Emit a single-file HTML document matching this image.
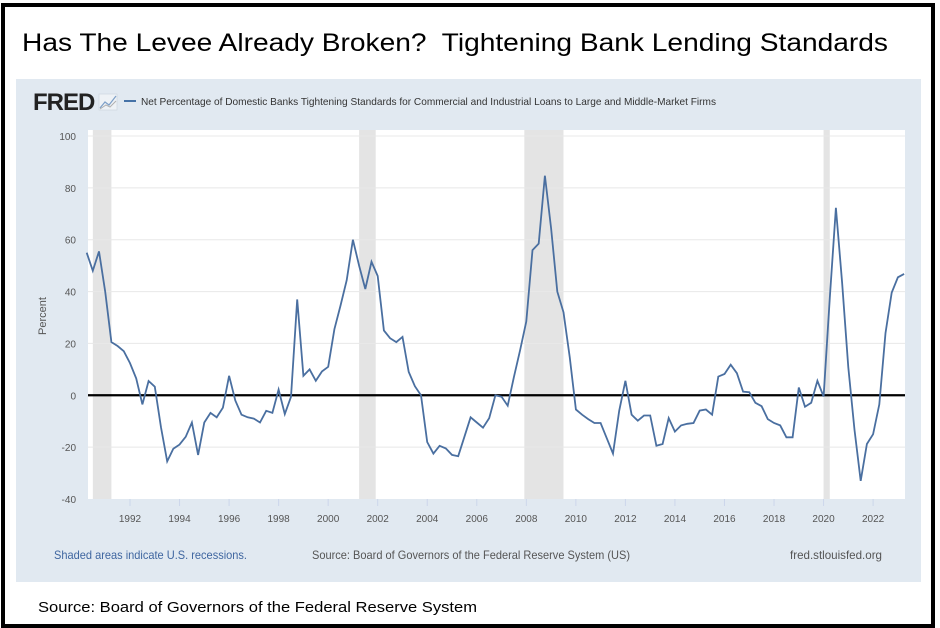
<!DOCTYPE html>
<html><head><meta charset="utf-8"><style>
html,body{margin:0;padding:0;background:#fff;}
#wrap{position:relative;width:940px;height:628px;overflow:hidden;font-family:"Liberation Sans",sans-serif;}
#frame{position:absolute;left:1px;top:3px;width:926px;height:617px;border:4px solid #000;}
#panel{position:absolute;left:16px;top:79px;width:905px;height:503px;background:#e1e9f1;}
</style></head><body>
<div id="wrap">
<div id="frame"></div>
<div id="panel"></div>
<svg id="chart" width="940" height="628" style="position:absolute;left:0;top:0">
<text x="22" y="51" font-size="25" fill="#000" textLength="866" lengthAdjust="spacingAndGlyphs">Has The Levee Already Broken?&#160; Tightening Bank Lending Standards</text>
<text x="33" y="110" font-size="24" font-weight="bold" fill="#222" font-family="Liberation Sans" letter-spacing="-1">FRED</text>
<g>
<rect x="99" y="94" width="18" height="16" fill="#eef2f6" stroke="#c9d3dd" stroke-width="0.6"/>
<polyline points="100,108 105,102 109,105 116,96" fill="none" stroke="#7ea0c8" stroke-width="1.2"/>
<polyline points="100,109 106,105 110,107 116,101" fill="none" stroke="#b0b0b0" stroke-width="1"/>
</g>
<g>
<line x1="124" y1="101" x2="136" y2="101" stroke="#4572a7" stroke-width="2"/>
<text x="141" y="105" font-size="10.5" fill="#333" textLength="575" lengthAdjust="spacingAndGlyphs">Net Percentage of Domestic Banks Tightening Standards for Commercial and Industrial Loans to Large and Middle-Market Firms</text>
</g>
<rect x="88" y="130" width="817" height="369" fill="#fff"/>
<g id="rec"></g><g id="grid"></g><g id="yt"></g><g id="xt"></g>
<line id="zero" stroke="#000" stroke-width="2.2"/>
<path id="line" fill="none" stroke="#4a6fa0" stroke-width="1.8"/>
<text x="46" y="316" font-size="11" fill="#555" transform="rotate(-90 46 316)" text-anchor="middle">Percent</text>
<text x="54" y="559" font-size="12" fill="#3f66a0" textLength="193" lengthAdjust="spacingAndGlyphs">Shaded areas indicate U.S. recessions.</text>
<text x="312" y="559" font-size="12" fill="#555" textLength="318" lengthAdjust="spacingAndGlyphs">Source: Board of Governors of the Federal Reserve System (US)</text>
<text x="790" y="559" font-size="12" fill="#555" textLength="92" lengthAdjust="spacingAndGlyphs">fred.stlouisfed.org</text>
<text x="38" y="612" font-size="15" fill="#000" textLength="439" lengthAdjust="spacingAndGlyphs">Source: Board of Governors of the Federal Reserve System</text>
</svg>
</div>
<script>
const startYear = 1990.25;
const values = [55,48,55.5,40, 20.5,19,17,12.4, 6.5,-3.5,5.5,3.3, -12.4,-25.5,-20.6,-19, -16,-10.5,-23,-10.5, -6.8,-8.5,-4.8,7.5, -2,-7.5,-8.5,-9, -10.5,-6,-6.8,2.2, -7.2,-0.6,37,7.5, 10,5.6,9.2,11, 25.5,34.6,44.4,60, 50,41,51.5,46, 25,22,20.5,22.5, 9,3.5,0,-18, -22.5,-19.5,-20.5,-23, -23.5,-16,-8.5,-10.5, -12.5,-8.8,0,-0.6, -4,7,17.4,28.5, 56,58.5,84.7,64.4, 40,32,14.8,-5.5, -7.5,-9.2,-10.7,-10.7, -16.6,-22.5,-6,5.6, -7.5,-9.8,-7.8,-7.8, -19.5,-18.8,-8.8,-14, -11.6,-11,-10.7,-5.9, -5.5,-7.5,7.2,8.2, 11.8,8.5,1.4,1.2, -2.9,-4.2,-9.2,-10.7, -11.6,-16.2,-16.2,3, -4.4,-2.9,5.6,-0.5, 37.6,72.3,43.5,10.8, -13.3,-33,-18.8,-15, -3.5,24,39.6,45.5, 46.8];
const recStart = [1990.5, 2001.25, 2007.92, 2020.0];
const recEnd = [1991.25, 2001.92, 2009.5, 2020.25];
const yTicks = [100,80,60,40,20,0,-20,-40];
const xTicks = [1992,1994,1996,1998,2000,2002,2004,2006,2008,2010,2012,2014,2016,2018,2020,2022];

const NS='http://www.w3.org/2000/svg';
const X0=88,X1=905,Y0=136,Y1=499;
function xs(t){return 130+(t-1992)*24.77;}
function ys(v){return Y0+(100-v)*(Y1-Y0)/140;}
function mk(tag,attrs,parent){const e=document.createElementNS(NS,tag);for(const k in attrs)e.setAttribute(k,attrs[k]);document.getElementById(parent).appendChild(e);return e;}
recStart.forEach((s,i)=>{
  const r=mk('rect',{x:xs(s),y:130,width:xs(recEnd[i])-xs(s),height:369,fill:'#e4e4e4'},'rec');
  
  
});
yTicks.forEach(v=>{
  if(v!==-40&&v!==0){const g=mk('line',{x1:X0,x2:X1,y1:ys(v),y2:ys(v),stroke:'#e8e8e8','stroke-width':1},'grid');
  
  }
  const t=mk('text',{x:76,y:ys(v)+4,'font-size':10,fill:'#555','text-anchor':'end'},'yt');
  t.textContent=v;
  
  
});
xTicks.forEach(y=>{
  const t=mk('text',{x:xs(y),y:522,'font-size':10,fill:'#555','text-anchor':'middle'},'xt');
  t.textContent=y;
  
  
  const m=mk('line',{x1:xs(y),x2:xs(y),y1:499,y2:506,stroke:'#ccd6eb'},'xt');
  
  
});
const z=document.getElementById('zero');
z.setAttribute('x1',X0);z.setAttribute('x2',X1);z.setAttribute('y1',ys(0));z.setAttribute('y2',ys(0));
let d='';
values.forEach((v,i)=>{const t=startYear+i*0.25;d+=(i?'L':'M')+xs(t).toFixed(1)+','+ys(v).toFixed(1);});
document.getElementById('line').setAttribute('d',d);
</script>
</body></html>
